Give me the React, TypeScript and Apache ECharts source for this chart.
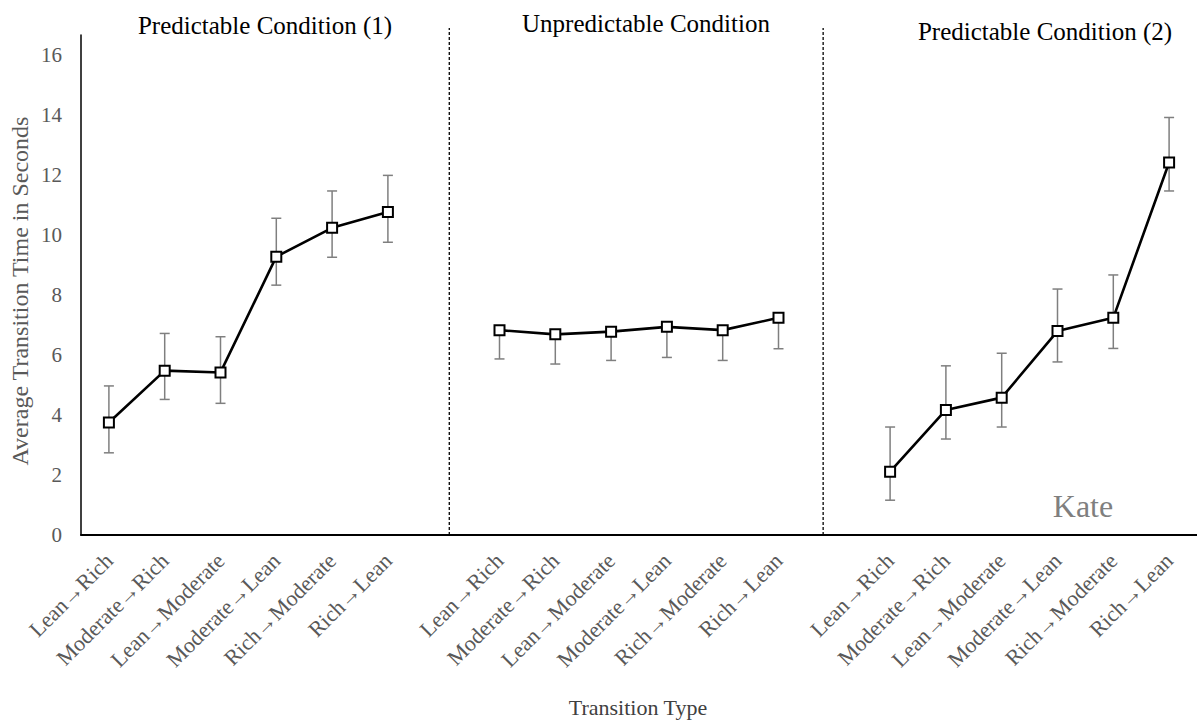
import React, { useEffect, useRef } from "react";
import * as echarts from "echarts";

const groupLabels = ["Lean→Rich", "Moderate→Rich", "Lean→Moderate", "Moderate→Lean", "Rich→Moderate", "Rich→Lean"];
const panelTitles = ["Predictable Condition (1)", "Unpredictable Condition", "Predictable Condition (2)"];
const yTicks = [0, 2, 4, 6, 8, 10, 12, 14, 16];

const pred1Mean = [3.75, 5.48, 5.42, 9.28, 10.24, 10.77];
const pred1Upper = [4.97, 6.72, 6.61, 10.56, 11.47, 11.99];
const pred1Lower = [2.74, 4.52, 4.39, 8.33, 9.26, 9.76];

const unpredMean = [6.83, 6.69, 6.78, 6.94, 6.83, 7.24];
const unpredUpper = [6.83, 6.69, 6.78, 6.94, 6.83, 7.24];
const unpredLower = [5.87, 5.7, 5.82, 5.92, 5.82, 6.21];

const pred2Mean = [2.11, 4.17, 4.58, 6.8, 7.24, 12.42];
const pred2Upper = [3.6, 5.64, 6.06, 8.2, 8.67, 13.92];
const pred2Lower = [1.16, 3.2, 3.6, 5.77, 6.22, 11.47];

const separators = [6.1, 12.8];
const groupOffsets = [0, 7, 14];

const FONT = '"Liberation Serif", "Times New Roman", serif';

export default function App() {
  const ref = useRef<HTMLDivElement>(null);
  useEffect(() => {
    if (!ref.current) return;
    const chart = echarts.init(ref.current, null, { renderer: "svg" });

    const categories: string[] = [];
    for (let g = 0; g < 3; g++) {
      categories.push(...groupLabels);
      if (g < 2) categories.push("");
    }
    const groups = [
      { mean: pred1Mean, up: pred1Upper, lo: pred1Lower },
      { mean: unpredMean, up: unpredUpper, lo: unpredLower },
      { mean: pred2Mean, up: pred2Upper, lo: pred2Lower },
    ];
    const lineSeries = groups.map((g, gi) => {
      const data: (number | null)[] = categories.map(() => null);
      g.mean.forEach((v, i) => (data[groupOffsets[gi] + i] = v));
      return {
        type: "line",
        name: panelTitles[gi],
        data,
        connectNulls: false,
        symbol: "emptyRect",
        symbolSize: 10,
        z: 5,
        lineStyle: { color: "#000", width: 2.6 },
        itemStyle: { color: "#000", borderColor: "#000", borderWidth: 1.5 },
      };
    });
    const errData: number[][] = [];
    groups.forEach((g, gi) => {
      g.mean.forEach((m, i) => errData.push([groupOffsets[gi] + i, g.lo[i], g.up[i], m]));
    });

    const centered = { textAlign: "center", textVerticalAlign: "middle", align: "center", verticalAlign: "middle" };

    const option: any = {
      animation: false,
      backgroundColor: "#fff",
      textStyle: { fontFamily: FONT },
      grid: { left: 81, right: -10, top: 35, bottom: 185 },
      xAxis: [
        {
          type: "category",
          data: categories,
          boundaryGap: true,
          axisLine: { lineStyle: { color: "#000", width: 2 } },
          axisTick: { show: false },
          axisLabel: { rotate: 45, interval: 0, color: "#595959", fontSize: 22, fontFamily: FONT, margin: 22 },
          splitLine: { show: false },
        },
        { type: "value", min: -0.5, max: 19.5, show: false, position: "top" },
      ],
      yAxis: {
        type: "value",
        min: 0,
        max: 16.67,
        interval: 2,
        axisLine: { show: true, onZero: false, lineStyle: { color: "#000", width: 1.5 } },
        axisTick: { show: false },
        splitLine: { show: false },
        axisLabel: {
          color: "#595959",
          fontSize: 21,
          fontFamily: FONT,
          margin: 19,
          formatter: (v: number) => (yTicks.some((t) => Math.abs(t - v) < 1e-6) ? String(v) : ""),
        },
      },
      series: [
        {
          type: "custom",
          z: 2,
          data: errData,
          encode: { x: 0, y: [1, 2] },
          renderItem: (params: any, api: any) => {
            const x = api.value(0);
            const lo = api.coord([x, api.value(1)]);
            const hi = api.coord([x, api.value(2)]);
            const hasUp = api.value(2) > api.value(3) + 0.01;
            const st = { stroke: "#7f7f7f", lineWidth: 1.5 };
            const ch: any[] = [
              { type: "line", shape: { x1: lo[0], y1: lo[1], x2: hi[0], y2: hi[1] }, style: st },
              { type: "line", shape: { x1: lo[0] - 5, y1: lo[1], x2: lo[0] + 5, y2: lo[1] }, style: st },
            ];
            if (hasUp) ch.push({ type: "line", shape: { x1: hi[0] - 5, y1: hi[1], x2: hi[0] + 5, y2: hi[1] }, style: st });
            return { type: "group", children: ch };
          },
        },
        {
          type: "custom",
          xAxisIndex: 1,
          z: 1,
          data: separators.map((s) => [s]),
          encode: { x: 0 },
          clip: false,
          renderItem: (params: any, api: any) => {
            const v = api.value(0);
            const a = api.coord([v, 0]);
            const b = api.coord([v, 16.9]);
            return {
              type: "line",
              shape: { x1: a[0], y1: a[1], x2: b[0], y2: b[1] },
              style: { stroke: "#000", lineWidth: 1.3, lineDash: [3, 2] },
            };
          },
        },
        ...lineSeries,
      ],
      graphic: [
        ...[
          { t: panelTitles[0], x: 265, y: 25 },
          { t: panelTitles[1], x: 646, y: 23 },
          { t: panelTitles[2], x: 1045, y: 31 },
        ].map((p) => ({
          type: "text",
          x: p.x,
          y: p.y,
          style: { text: p.t, fontSize: 25, fontFamily: FONT, fill: "#000", ...centered },
        })),
        {
          type: "text",
          x: 20,
          y: 291,
          rotation: Math.PI / 2,
          style: { text: "Average Transition Time in Seconds", fontSize: 24, fontFamily: FONT, fill: "#595959", ...centered },
        },
        {
          type: "text",
          x: 638,
          y: 707,
          style: { text: "Transition Type", fontSize: 22, fontFamily: FONT, fill: "#404040", ...centered },
        },
        {
          type: "text",
          x: 1083,
          y: 506,
          style: { text: "Kate", fontSize: 32, fontFamily: FONT, fill: "#7f7f7f", ...centered },
        },
      ],
    };
    chart.setOption(option);
    return () => chart.dispose();
  }, []);
  return <div ref={ref} style={{ position: "absolute", left: 0, top: 0, width: 1197, height: 720 }} />;
}
